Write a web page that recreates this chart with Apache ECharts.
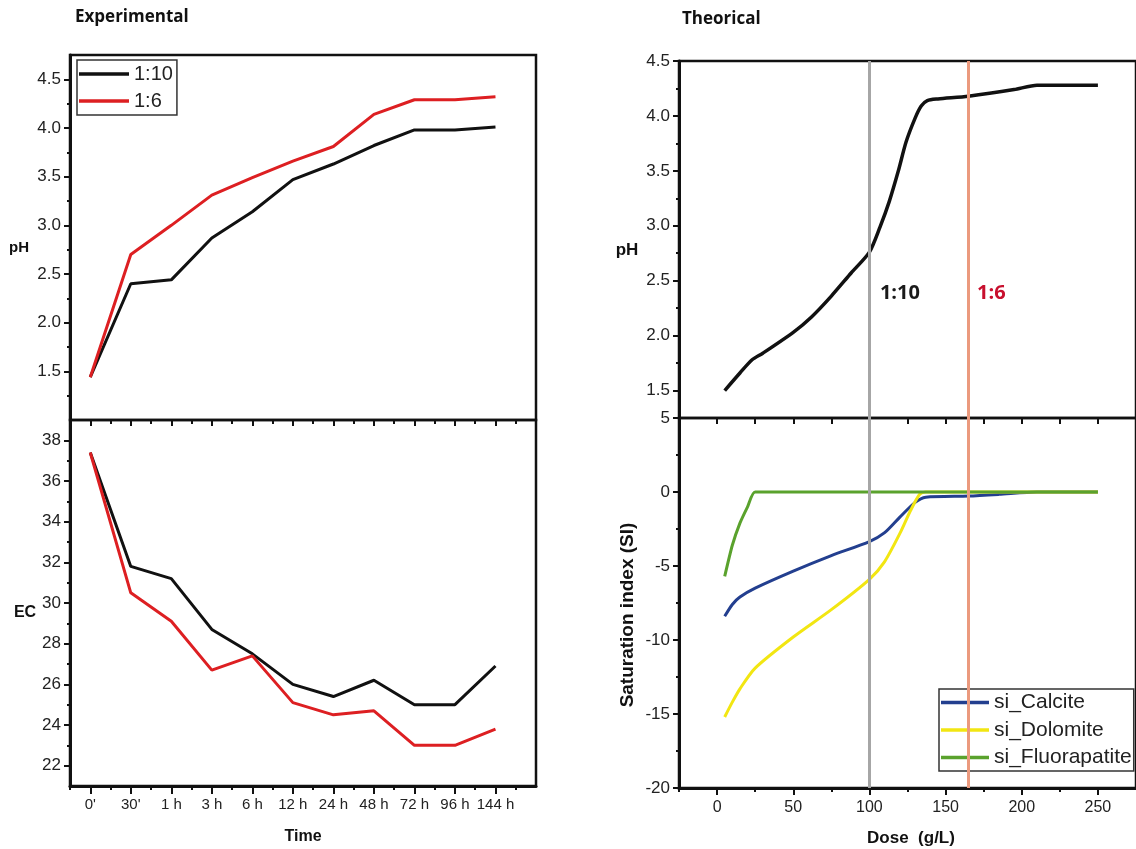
<!DOCTYPE html>
<html><head><meta charset="utf-8">
<script src="https://cdn.jsdelivr.net/npm/echarts@6/dist/echarts.min.js"></script>
<style>html,body{margin:0;padding:0;background:#fff}#c{width:1136px;height:849px}</style>
</head><body><div id="c"></div>
<script>
// ---------- data ----------
const timeLabels = ["0'", "30'", "1 h", "3 h", "6 h", "12 h", "24 h", "48 h", "72 h", "96 h", "144 h"];
const pH_1_10 = [1.44, 2.40, 2.44, 2.87, 3.14, 3.47, 3.63, 3.82, 3.98, 3.98, 4.01];
const pH_1_6  = [1.44, 2.70, 3.00, 3.31, 3.49, 3.66, 3.81, 4.14, 4.29, 4.29, 4.32];
const EC_1_10 = [37.4, 31.8, 31.2, 28.7, 27.5, 26.0, 25.4, 26.2, 25.0, 25.0, 26.9];
const EC_1_6  = [37.4, 30.5, 29.1, 26.7, 27.4, 25.1, 24.5, 24.7, 23.0, 23.0, 23.8];

const phDose = [5, 15, 23, 30, 50, 62, 75, 88, 100, 107, 113, 119, 124, 130, 134, 138, 145, 165, 195, 210, 250];
const phTheo = [1.50, 1.66, 1.78, 1.84, 2.03, 2.17, 2.36, 2.57, 2.76, 2.99, 3.22, 3.50, 3.76, 3.98, 4.09, 4.14, 4.155, 4.18, 4.24, 4.28, 4.28];

const calDose = [5, 10, 15, 25, 50, 75, 100, 110, 120, 130, 137, 165, 185, 210, 250];
const calSI   = [-8.4, -7.6, -7.1, -6.5, -5.35, -4.3, -3.35, -2.75, -1.7, -0.7, -0.35, -0.27, -0.16, 0, 0];
const dolDose = [5, 10, 15, 25, 50, 75, 100, 110, 120, 127, 133, 137, 250];
const dolSI   = [-15.2, -14.2, -13.3, -11.9, -9.8, -7.95, -5.9, -4.7, -2.8, -1.25, -0.15, 0, 0];
const fluDose = [5, 10, 15, 20, 25, 250];
const fluSI   = [-5.7, -3.6, -2.1, -1.0, 0, 0];

const ratioLines = [100, 165];

// tick values
const timeMajor = [0,1,2,3,4,5,6,7,8,9,10];
const timeMinor = [-0.5,0.5,1.5,2.5,3.5,4.5,5.5,6.5,7.5,8.5,9.5,10.5];
const phExpMajor = [1.5,2.0,2.5,3.0,3.5,4.0,4.5];
const phExpMinor = [1.25,1.75,2.25,2.75,3.25,3.75,4.25];
const ecMajor = [22,24,26,28,30,32,34,36,38];
const ecMinor = [23,25,27,29,31,33,35,37];
const doseMajor = [0,50,100,150,200,250];
const doseMinor = [-25,25,75,125,175,225];
const doseAll = [0,25,50,75,100,125,150,175,200,225,250];
const phThMajor = [1.5,2.0,2.5,3.0,3.5,4.0,4.5];
const phThMinor = [1.75,2.25,2.75,3.25,3.75,4.25];
const siMajor = [-20,-15,-10,-5,0,5];
const siMinor = [-17.5,-12.5,-7.5,-2.5,2.5];

// ---------- chart ----------
const AX = '#111';
const LBL = '#222';
const FONT = '"Liberation Sans", Arial, sans-serif';
const chart = echarts.init(document.getElementById('c'), null, {renderer: 'canvas'});

function pairs(xs, ys) { return ys.map((v, i) => [xs[i], v]); }
const idx = timeLabels.map((_, i) => i);

function majorY(g, min, max, vals, fmt, size) {
  return {type:'value', gridIndex:g, position:'left', min, max,
    axisLine:{show:true, onZero:false, lineStyle:{color:AX, width:3}},
    axisTick:{show:true, inside:false, length:6, lineStyle:{color:AX, width:2}, customValues: vals},
    axisLabel:{show:true, customValues: vals, formatter: fmt, fontSize: size, color: LBL, fontFamily: FONT, margin: 9},
    splitLine:{show:false}};
}
function minorY(g, min, max, vals) {
  return {type:'value', gridIndex:g, position:'left', min, max,
    axisLine:{show:false, onZero:false}, axisLabel:{show:false}, splitLine:{show:false},
    axisTick:{show:true, inside:false, length:3, lineStyle:{color:AX, width:2}, customValues: vals}};
}
function tickX(g, pos, min, max, vals, len, inside) {
  return {type:'value', gridIndex:g, position:pos, min, max,
    axisLine:{show:false, onZero:false}, axisLabel:{show:false}, splitLine:{show:false},
    axisTick:{show:true, inside:inside, length:len, lineStyle:{color:AX, width:2}, customValues: vals}};
}
const vLines = {silent:true, symbol:['none','none'], label:{show:false}, animation:false,
  data: ratioLines.map((d, i) => ({xAxis: d, lineStyle:{color: i === 0 ? '#a6a6a6' : '#eb9a7e', width: 3, type:'solid'}}))};

const option = {
  animation: false,
  backgroundColor: '#fff',
  grid: [
    {left: 70, top: 55, width: 466, height: 365, show: true, borderColor: AX, borderWidth: 2.5, backgroundColor: 'transparent'},
    {left: 70, top: 420, width: 466, height: 366, show: true, borderColor: AX, borderWidth: 2.5, backgroundColor: 'transparent'},
    {left: 679, top: 61, width: 463, height: 357, show: true, borderColor: AX, borderWidth: 2.5, backgroundColor: 'transparent'},
    {left: 679, top: 418, width: 463, height: 370, show: true, borderColor: AX, borderWidth: 2.5, backgroundColor: 'transparent'}
  ],
  xAxis: [
    {type:'value', gridIndex:0, min:-0.5, max:11, show:false},
    {type:'value', gridIndex:1, position:'bottom', min:-0.5, max:11,
      axisLine:{show:true, onZero:false, lineStyle:{color:AX, width:3}},
      axisTick:{show:true, length:8, lineStyle:{color:AX, width:2}, customValues: timeMajor},
      axisLabel:{show:true, customValues: timeMajor, formatter: v => timeLabels[Math.round(v)] || '', fontSize: 15, color: LBL, fontFamily: FONT, margin: 11},
      splitLine:{show:false}},
    tickX(1, 'bottom', -0.5, 11, timeMinor, 4, false),
    tickX(1, 'top', -0.5, 11, timeMajor, 6, true),
    tickX(1, 'top', -0.5, 11, timeMinor, 4, true),
    {type:'value', gridIndex:2, min:-25, max:275, show:false},
    {type:'value', gridIndex:3, position:'bottom', min:-25, max:275,
      axisLine:{show:true, onZero:false, lineStyle:{color:AX, width:3}},
      axisTick:{show:true, length:7, lineStyle:{color:AX, width:2}, customValues: doseMajor},
      axisLabel:{show:true, customValues: doseMajor, fontSize: 16, color: LBL, fontFamily: FONT, margin: 12},
      splitLine:{show:false}},
    tickX(3, 'bottom', -25, 275, doseMinor, 4, false),
    tickX(3, 'top', -25, 275, doseAll, 6, true)
  ],
  yAxis: [
    majorY(0, 1.0, 4.75, phExpMajor, v => v.toFixed(1), 17),
    minorY(0, 1.0, 4.75, phExpMinor),
    majorY(1, 21, 39, ecMajor, v => String(v), 17),
    minorY(1, 21, 39, ecMinor),
    majorY(2, 1.25, 4.5, phThMajor, v => v.toFixed(1), 17),
    minorY(2, 1.25, 4.5, phThMinor),
    majorY(3, -20, 5, siMajor, v => String(v), 17),
    minorY(3, -20, 5, siMinor)
  ],
  legend: [
    {data: ['1:10', '1:6'], orient: 'vertical', left: 77, top: 60, padding: [4, 4, 4, 2],
      icon: 'rect', itemWidth: 50, itemHeight: 3.5, itemGap: 7, borderColor: '#333', borderWidth: 1.5,
      backgroundColor: '#fff',
      textStyle: {fontSize: 20, color: LBL, fontFamily: FONT}},
    {data: ['si_Calcite', 'si_Dolomite', 'si_Fluorapatite'], orient: 'vertical', left: 939, top: 689,
      padding: [3, 2, 3, 2], icon: 'rect', itemWidth: 48, itemHeight: 3.5, itemGap: 6.5,
      borderColor: '#333', borderWidth: 1.5, backgroundColor: '#fff',
      textStyle: {fontSize: 21, color: LBL, fontFamily: FONT}}
  ],
  series: [
    {name:'1:10', type:'line', xAxisIndex:0, yAxisIndex:0, data: pairs(idx, pH_1_10), symbol:'none',
      lineStyle:{color:'#111', width:3}, itemStyle:{color:'#111'}},
    {name:'1:6', type:'line', xAxisIndex:0, yAxisIndex:0, data: pairs(idx, pH_1_6), symbol:'none',
      lineStyle:{color:'#dd1f22', width:3}, itemStyle:{color:'#dd1f22'}},
    {name:'1:10', type:'line', xAxisIndex:1, yAxisIndex:2, data: pairs(idx, EC_1_10), symbol:'none',
      lineStyle:{color:'#111', width:3}, itemStyle:{color:'#111'}},
    {name:'1:6', type:'line', xAxisIndex:1, yAxisIndex:2, data: pairs(idx, EC_1_6), symbol:'none',
      lineStyle:{color:'#dd1f22', width:3}, itemStyle:{color:'#dd1f22'}},
    {name:'pH theo', type:'line', xAxisIndex:5, yAxisIndex:4, data: pairs(phDose, phTheo), symbol:'none',
      smooth: 0.25,
      lineStyle:{color:'#111', width:3.5}, itemStyle:{color:'#111'}, z: 3,
      markLine: vLines,
      markPoint:{silent:true, symbol:'circle', symbolSize:1, itemStyle:{color:'rgba(0,0,0,0)'},
        data:[
          {coord:[120, 2.385], label:{show:true, position:'inside', formatter:'1:10', color:'#1a1a1a', fontSize:20, fontWeight:'bold', fontFamily:'"Open Sans", sans-serif'}},
          {coord:[180, 2.385], label:{show:true, position:'inside', formatter:'1:6', color:'#c8102e', fontSize:20, fontWeight:'bold', fontFamily:'"Open Sans", sans-serif'}}
        ]}},
    {name:'si_Calcite', type:'line', xAxisIndex:6, yAxisIndex:6, data: pairs(calDose, calSI), symbol:'none',
      smooth: 0.25,
      lineStyle:{color:'#233f8f', width:3}, itemStyle:{color:'#233f8f'},
      markLine: vLines},
    {name:'si_Dolomite', type:'line', xAxisIndex:6, yAxisIndex:6, data: pairs(dolDose, dolSI), symbol:'none',
      smooth: 0.25,
      lineStyle:{color:'#f2e612', width:3}, itemStyle:{color:'#f2e612'}},
    {name:'si_Fluorapatite', type:'line', xAxisIndex:6, yAxisIndex:6, data: pairs(fluDose, fluSI), symbol:'none',
      smooth: 0.2,
      lineStyle:{color:'#5aa22d', width:3}, itemStyle:{color:'#5aa22d'}}
  ],
  graphic: [
    {type:'text', x:75, y:17, style:{text:'Experimental', font:'bold 17px "Open Sans", sans-serif', fill:'#111', verticalAlign:'middle'}},
    {type:'text', x:682, y:19, style:{text:'Theorical', font:'bold 17px "Open Sans", sans-serif', fill:'#111', verticalAlign:'middle'}},
    {type:'text', x:19, y:248, style:{text:'pH', font:'bold 15px "Liberation Sans", Arial', fill:'#111', align:'center', verticalAlign:'middle'}},
    {type:'text', x:25, y:613, style:{text:'EC', font:'bold 16px "Liberation Sans", Arial', fill:'#111', align:'center', verticalAlign:'middle'}},
    {type:'text', x:303, y:837, style:{text:'Time', font:'bold 16px "Liberation Sans", Arial', fill:'#111', align:'center', verticalAlign:'middle'}},
    {type:'text', x:627, y:250, style:{text:'pH', font:'bold 17px "Liberation Sans", Arial', fill:'#111', align:'center', verticalAlign:'middle'}},
    {type:'text', x:911, y:838, style:{text:'Dose  (g/L)', font:'bold 17px "Liberation Sans", Arial', fill:'#111', align:'center', verticalAlign:'middle'}},
    {type:'text', x:628, y:615, rotation: Math.PI/2, style:{text:'Saturation index (SI)', font:'bold 19px "Liberation Sans", Arial', fill:'#111', align:'center', verticalAlign:'middle'}}
  ]
};
chart.setOption(option);
</script>
</body></html>
